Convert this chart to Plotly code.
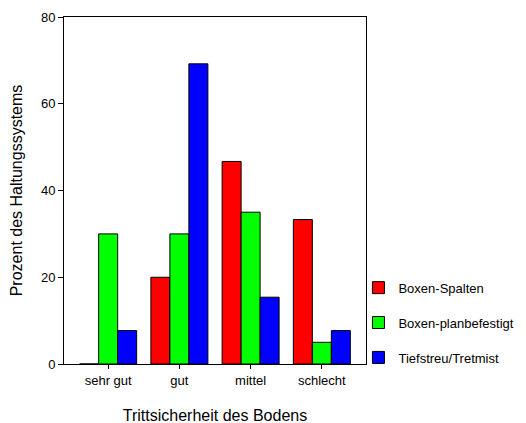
import plotly.graph_objects as go

categories = ["sehr gut", "gut", "mittel", "schlecht"]
series_names = ["Boxen-Spalten", "Boxen-planbefestigt", "Tiefstreu/Tretmist"]
boxen_spalten = [0.0, 20.0, 46.7, 33.3]
boxen_planbefestigt = [30.0, 30.0, 35.0, 5.0]
tiefstreu_tretmist = [7.7, 69.2, 15.4, 7.7]
colors = ["#ff0000", "#00ff00", "#0000ff"]
y_ticks = [0, 20, 40, 60, 80]

font = "Liberation Sans, Arial, sans-serif"
fig = go.Figure()
for name, vals, col in zip(series_names, [boxen_spalten, boxen_planbefestigt, tiefstreu_tretmist], colors):
    fig.add_trace(go.Bar(
        x=categories, y=vals, name=name, legendgroup=name,
        marker=dict(color=col, line=dict(color="black", width=1)),
    ))

fig.update_layout(
    width=526, height=423,
    margin=dict(l=56, r=168, t=9, b=67),
    paper_bgcolor="white", plot_bgcolor="white",
    barmode="group", bargap=0.2, bargroupgap=0,
    font=dict(family=font, size=13, color="black"),
    showlegend=True,
    legend=dict(x=0.975, xanchor="left", y=-0.025, yanchor="bottom",
                font=dict(size=13), tracegroupgap=15, itemwidth=30,
                bgcolor="rgba(0,0,0,0)"),
    xaxis=dict(range=[-0.62, 3.62], showline=True, linecolor="black", linewidth=1,
               mirror=True, ticks="outside", ticklen=4, tickcolor="black",
               title=dict(text="Trittsicherheit des Bodens", font=dict(size=16), standoff=23),
               automargin=False),
    yaxis=dict(range=[0, 80], tickvals=y_ticks, showline=True, linecolor="black", linewidth=1,
               mirror=True, ticks="outside", ticklen=5, tickcolor="black", showgrid=False,
               zeroline=False,
               title=dict(text="Prozent des Haltungssystems", font=dict(size=16), standoff=22),
               automargin=False),
)
fig.write_html("out.html")
